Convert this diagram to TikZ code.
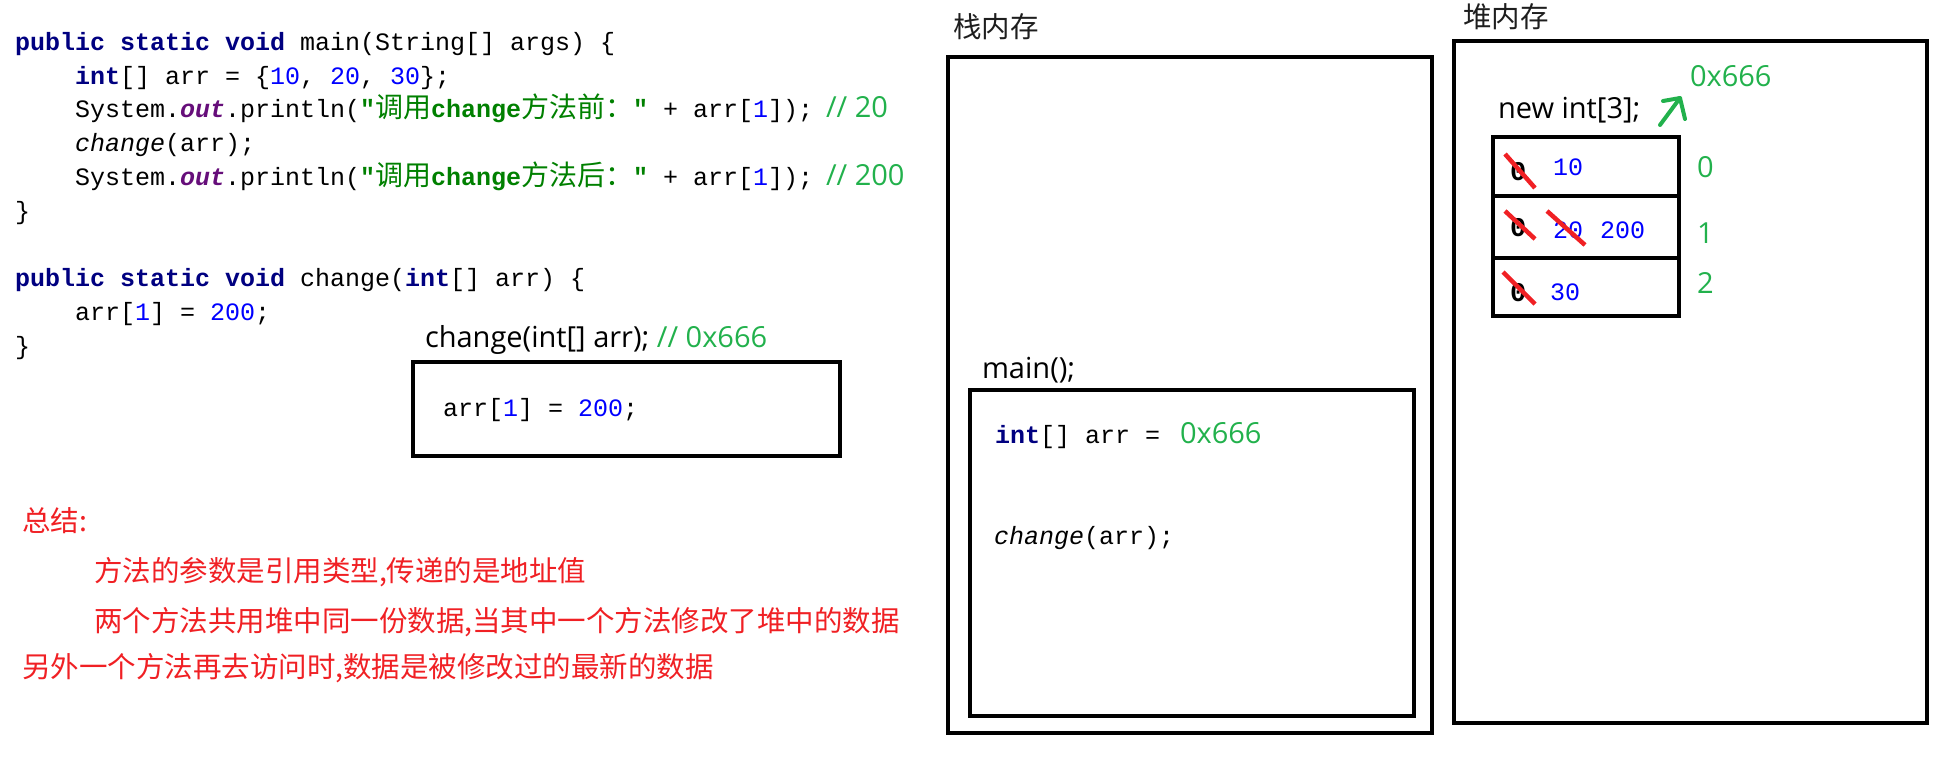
\documentclass[tikz,border=0pt]{standalone}
\usepackage{fontspec}
\newfontfamily\os{Open Sans}
\newfontfamily\cjk{Noto Sans CJK SC}
\newfontfamily\mono{Liberation Mono}
\definecolor{kwc}{RGB}{0,0,128}
\definecolor{strc}{RGB}{0,128,0}
\definecolor{numc}{RGB}{0,0,255}
\definecolor{outc}{RGB}{102,14,122}
\definecolor{cmtc}{RGB}{34,177,76}
\definecolor{redc}{RGB}{240,32,36}
\definecolor{titlec}{RGB}{30,30,30}
\newcommand\kw[1]{\textcolor{kwc}{\bfseries #1}}
\newcommand\nm[1]{\textcolor{numc}{#1}}
\newcommand\ot[1]{\textcolor{outc}{\bfseries\itshape #1}}
\newcommand\cj[1]{{\cjk\mdseries\fontsize{28}{30}\selectfont #1}}
\newcommand\strg[1]{\textcolor{strc}{\bfseries #1}}
\tikzset{
  code/.style={anchor=base west, inner sep=0pt, outer sep=0pt, font=\mono\fontsize{25}{30}\selectfont},
  lbl/.style={anchor=base west, inner sep=0pt, outer sep=0pt, font=\os\fontsize{29}{34}\selectfont},
  cmt/.style={lbl, text=cmtc},
  zh/.style={anchor=base west, inner sep=0pt, outer sep=0pt, font=\cjk\fontsize{28.5}{34}\selectfont},
  sumtext/.style={zh, text=redc},
  box/.style={draw, line width=4pt, anchor=north west, inner sep=0pt, outer sep=0pt},
  cell/.style={box, minimum width=186pt},
  zero/.style={code, font=\mono\bfseries\fontsize{27}{30}\selectfont},
  strike/.style={draw=redc, line width=4.5pt},
  garrow/.style={draw=cmtc, line width=4pt, line cap=round, line join=round}
}
\begin{document}
\begin{tikzpicture}[x=1pt,y=-1pt]
\useasboundingbox (0,0) rectangle (1956,761);
% code
\node[code] (c1) at (15,50) {\kw{public static void} main(String[] args) \{};
\node[code] (c2) at (75,84) {\kw{int}[] arr = \{\nm{10}, \nm{20}, \nm{30}\};};
\node[code] (c3) at (75,117) {System.\ot{out}.println(\strg{"\cj{调用}change\cj{方法前：}"} + arr[\nm{1}]);};
\node[cmt] (m3) at (826,117) {// 20};
\node[code] (c4) at (75,151) {\textit{change}(arr);};
\node[code] (c5) at (75,185) {System.\ot{out}.println(\strg{"\cj{调用}change\cj{方法后：}"} + arr[\nm{1}]);};
\node[cmt] (m5) at (826,185) {// 200};
\node[code] (c6) at (15,219) {\}};
\node[code] (c8) at (15,286) {\kw{public static void} change(\kw{int}[] arr) \{};
\node[code] (c9) at (75,320) {arr[\nm{1}] = \nm{200};};
\node[code] (c10) at (15,354) {\}};
% change frame
\node[lbl] (chlbl) at (425,347) {change(int[] arr); \textcolor{cmtc}{// 0x666}};
\node[box, minimum width=427pt, minimum height=94pt] (chbox) at (413,362) {};
\node[code] (chcode) at (443,416) {arr[\nm{1}] = \nm{200};};
% summary
\node[sumtext] (s1) at (22,531) {总结:};
\node[sumtext] (s2) at (94,581) {方法的参数是引用类型,传递的是地址值};
\node[sumtext] (s3) at (94,631) {两个方法共用堆中同一份数据,当其中一个方法修改了堆中的数据};
\node[sumtext] (s4) at (22,677) {另外一个方法再去访问时,数据是被修改过的最新的数据};
% stack
\node[zh, text=titlec] (stt) at (953,37) {栈内存};
\node[box, minimum width=484pt, minimum height=676pt] (stack) at (948,57) {};
\node[lbl] (mainlbl) at (982,378) {main();};
\node[box, minimum width=444pt, minimum height=326pt] (mainbox) at (970,390) {};
\node[code] (mc1) at (995,443) {\kw{int}[] arr =};
\node[cmt] (mc1v) at (1180,443) {0x666};
\node[code] (mc2) at (994,544) {\textit{change}(arr);};
% heap
\node[zh, text=titlec] (hpt) at (1463,27) {堆内存};
\node[box, minimum width=473pt, minimum height=682pt] (heap) at (1454,41) {};
\node[lbl] (newlbl) at (1498,118) {new int[3];};
\node[cmt] (addr) at (1690,86) {0x666};
\coordinate (a1) at (1660,125);
\coordinate (a2) at (1680,98);
\coordinate (a3) at (1663,101);
\coordinate (a4) at (1685,119);
\draw[garrow] (a1) -- (a2);
\draw[garrow] (a3) -- (a2) -- (a4);
\node[cell, minimum height=59pt] (r0) at (1493,137) {};
\node[cell, minimum height=62pt] (r1) at (1493,196) {};
\node[cell, minimum height=58pt] (r2) at (1493,258) {};
\node[cmt] (i0) at (1697,177) {0};
\node[cmt] (i1) at (1697,243) {1};
\node[cmt] (i2) at (1697,293) {2};
\node[zero] (z0) at (1510,180) {0};
\node[code, text=numc] (v0) at (1553,175) {10};
\node[zero] (z1) at (1510,236) {0};
\node[code, text=numc] (v1) at (1553,238) {20};
\node[code, text=numc] (v1b) at (1600,238) {200};
\node[zero] (z2) at (1510,301) {0};
\node[code, text=numc] (v2) at (1550,300) {30};
\draw[strike] (1505,154) -- (1535,188);
\draw[strike] (1505,211) -- (1535,239);
\draw[strike] (1547,211) -- (1585,245);
\draw[strike] (1503,272) -- (1535,304);
\end{tikzpicture}
\end{document}
